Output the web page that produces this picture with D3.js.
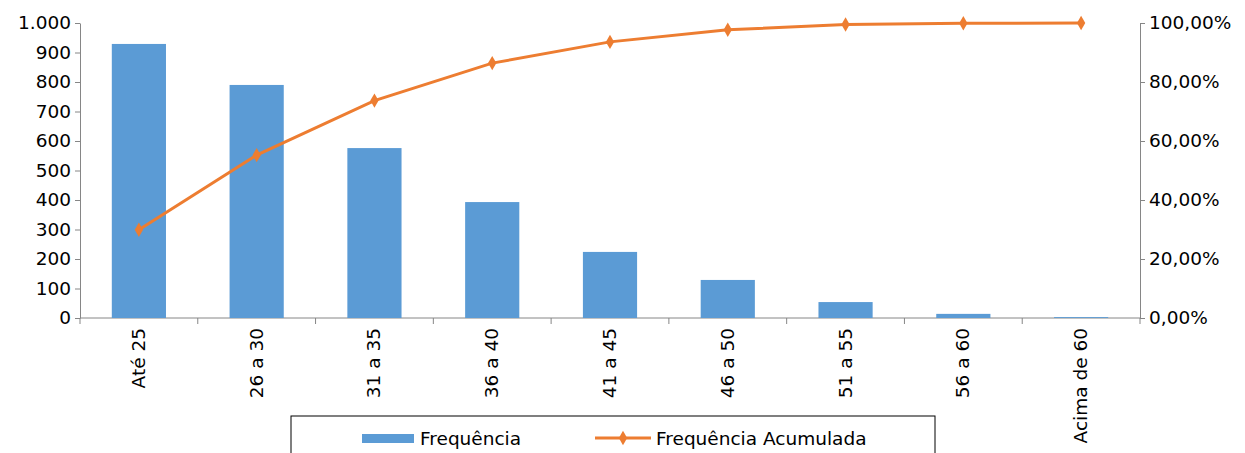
<!DOCTYPE html>
<html><head><meta charset="utf-8">
<script src="https://cdn.jsdelivr.net/npm/d3@7"></script>
<style>body{margin:0;background:#fff}svg{font-family:"DejaVu Sans",sans-serif}</style>
</head><body><svg id="c" width="1245" height="453"></svg>
<script>
var categories = ['Até 25','26 a 30','31 a 35','36 a 40','41 a 45','46 a 50','51 a 55','56 a 60','Acima de 60'];
var frequencia = [929, 790, 576, 393, 224, 129, 54, 14, 3];
var acumulada = [29.9, 55.2, 73.7, 86.4, 93.6, 97.7, 99.5, 99.9, 100];
var leftTicks = [0,100,200,300,400,500,600,700,800,900,1000];
var rightTicks = [0,20,40,60,80,100];

var FS = 18.5;
var svg = d3.select('#c');
var m = {l:80, r:1140, t:23, b:318};
var x = d3.scaleBand().domain(categories).range([m.l, m.r]).paddingInner(0.54).paddingOuter(0.27);
var xb = d3.scaleBand().domain(categories).range([m.l, m.r]);
var y = d3.scaleLinear().domain([0,1000]).range([m.b, m.t]);
var y2 = d3.scaleLinear().domain([0,100]).range([m.b, m.t]);
var nf = function(v){ return v >= 1000 ? '1.000' : String(v); };

var gl = svg.append('g').attr('transform','translate('+m.l+',0)')
  .call(d3.axisLeft(y).tickValues(leftTicks).tickFormat(nf).tickSize(5).tickSizeOuter(0));
var gr = svg.append('g').attr('transform','translate('+m.r+',0)')
  .call(d3.axisRight(y2).tickValues(rightTicks).tickFormat(function(v){return v.toFixed(2).replace('.',',')+'%';}).tickSize(5).tickSizeOuter(0));
[gl,gr].forEach(function(g){
  g.selectAll('path,line').attr('stroke','#868686');
  g.selectAll('text').attr('font-size',FS).attr('fill','#000').attr('font-family','"DejaVu Sans",sans-serif');
});
gl.selectAll('text').attr('x',-9);
gr.selectAll('text').attr('x',9);

// x axis
svg.append('line').attr('x1',m.l).attr('x2',m.r).attr('y1',m.b).attr('y2',m.b).attr('stroke','#868686');
categories.concat(['_end']).forEach(function(c,i){
  var px = m.l + i*xb.bandwidth();
  svg.append('line').attr('x1',px).attr('x2',px).attr('y1',m.b).attr('y2',m.b+6).attr('stroke','#868686');
});
svg.selectAll('.xl').data(categories).enter().append('text')
  .attr('transform',function(d){return 'translate('+(xb(d)+xb.bandwidth()/2+6)+','+(m.b+10)+') rotate(-90)';})
  .attr('text-anchor','end').attr('font-size',FS).text(function(d){return d;});

svg.selectAll('.bar').data(frequencia).enter().append('rect')
  .attr('x',function(d,i){return x(categories[i]);}).attr('width',x.bandwidth())
  .attr('y',function(d){return y(d);}).attr('height',function(d){return m.b-y(d);})
  .attr('fill','#5b9bd5');

var line = d3.line().x(function(d,i){return xb(categories[i])+xb.bandwidth()/2;}).y(function(d){return y2(d);});
svg.append('path').attr('d',line(acumulada)).attr('fill','none').attr('stroke','#ed7d31').attr('stroke-width',3);
svg.selectAll('.pt').data(acumulada).enter().append('path')
  .attr('d',d3.symbol(d3.symbolDiamond,60)())
  .attr('transform',function(d,i){return 'translate('+(xb(categories[i])+xb.bandwidth()/2)+','+y2(d)+')';})
  .attr('fill','#ed7d31');

// legend
var lg = svg.append('g');
lg.append('rect').attr('x',291).attr('y',416).attr('width',644).attr('height',60).attr('fill','#fff').attr('stroke','#000').attr('stroke-width',1);
lg.append('rect').attr('x',362).attr('y',434).attr('width',52).attr('height',9).attr('fill','#5b9bd5');
lg.append('text').attr('x',420).attr('y',445).attr('font-size',FS).text('Frequência');
lg.append('line').attr('x1',595).attr('x2',651).attr('y1',438).attr('y2',438).attr('stroke','#ed7d31').attr('stroke-width',3);
lg.append('path').attr('d',d3.symbol(d3.symbolDiamond,60)()).attr('transform','translate(623,438)').attr('fill','#ed7d31');
lg.append('text').attr('x',656).attr('y',445).attr('font-size',FS).text('Frequência Acumulada');
</script></body></html>
